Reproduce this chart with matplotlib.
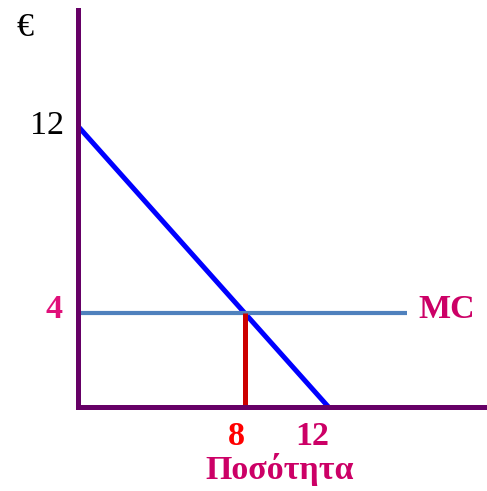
import matplotlib.pyplot as plt

# demand curve: price 12 at q=0, q=12 at price 0
demand_q = [0, 12]
demand_p = [12, 0]
mc_value = 4
mc_q = [0, 15.75]
q_star = 8
ytick_vals = [12]
xtick_vals = [8, 12]

W, H = 487, 491
fig = plt.figure(figsize=(W / 100, H / 100), dpi=100)

# axes box in pixels: x 78..487, y 10..407
x0, x1, y0, y1 = 78, 487, 10, 407
ax = fig.add_axes([x0 / W, (H - y1) / H, (x1 - x0) / W, (y1 - y0) / H])
ax.set_xlim(0, (x1 - x0) / 20.875)
ax.set_ylim(0, (y1 - y0) / 23.4)

purple = '#660066'
pink = '#cc0066'
for s in ['top', 'right']:
    ax.spines[s].set_visible(False)
for s in ['left', 'bottom']:
    ax.spines[s].set_color(purple)
    ax.spines[s].set_linewidth(3.6)
ax.set_xticks([])
ax.set_yticks([])

ax.plot(demand_q, demand_p, color='#0000ff', lw=3.6, solid_capstyle='butt', clip_on=False)
ax.plot(mc_q, [mc_value, mc_value], color='#4f81bd', lw=3.0, solid_capstyle='butt', clip_on=False)
ax.plot([q_star, q_star], [0, mc_value], color='#cc0000', lw=3.6, solid_capstyle='butt', clip_on=False)

serif = 'Liberation Serif'
fs = 24.5

# labels
fig.text(25 / W, 1 - 28 / H, '€', family=serif, fontsize=fs, color='black', ha='center', va='center')
for v in ytick_vals:
    ax.annotate(str(v), xy=(0, v), xytext=(-22, 0), textcoords='offset points',
                family=serif, fontsize=fs, color='black', ha='center', va='center')
ax.annotate(str(mc_value), xy=(0, mc_value), xytext=(-17, 3), textcoords='offset points',
            family=serif, fontsize=fs, color='#e0107a', fontweight='bold', ha='center', va='center')
ax.annotate('MC', xy=(mc_q[1], mc_value), xytext=(29, 3), textcoords='offset points',
            family=serif, fontsize=fs, color=pink, fontweight='bold', ha='center', va='center')
xcolors = ['#ff0000', pink]
xoffs = [-6.5, -11.5]
for v, c, dx in zip(xtick_vals, xcolors, xoffs):
    ax.annotate(str(v), xy=(v, 0), xytext=(dx, -21), textcoords='offset points',
                family=serif, fontsize=fs, color=c, fontweight='bold', ha='center', va='center')
fig.text(280 / W, 1 - 470 / H, 'Ποσότητα', family=serif, fontsize=fs, color=pink,
         fontweight='bold', ha='center', va='center')

fig.savefig('out.png', dpi=100)
